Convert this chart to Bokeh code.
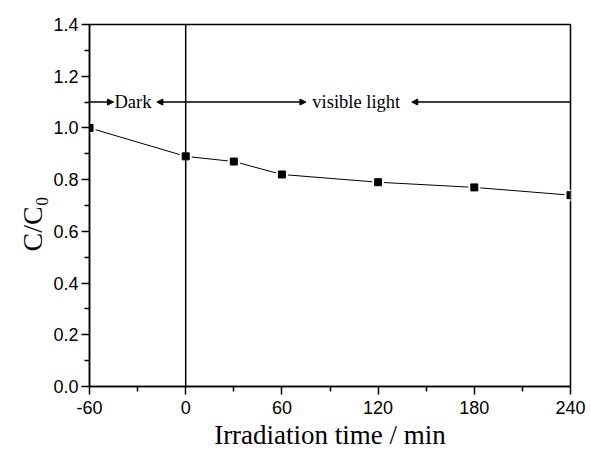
from bokeh.embed import file_html
from bokeh.models import (Arrow, FixedTicker, Label, NormalHead,
                          NumeralTickFormatter, Range1d, Span, Title)
from bokeh.plotting import figure
from bokeh.resources import INLINE

# Photocatalytic degradation: relative concentration vs irradiation time
time_min = [-60, 0, 30, 60, 120, 180, 240]
c_ratio = [1.00, 0.89, 0.87, 0.82, 0.79, 0.77, 0.74]

x_ticks = [-60, 0, 60, 120, 180, 240]
x_minor = [-30, 30, 90, 150, 210]
y_ticks = [0.0, 0.2, 0.4, 0.6, 0.8, 1.0, 1.2, 1.4]
y_minor = [0.1, 0.3, 0.5, 0.7, 0.9, 1.1, 1.3]

# Stage annotation: dark period, then visible light from t = 0
stage_level = 1.1
light_on = 0
dark_label = "Dark"
light_label = "visible light"

X0, X1 = -60, 240
Y0, Y1 = 0.0, 1.4

W, H = 591, 452
LEFT, RIGHT, TOP, BOTTOM = 89, 21, 24, 66

p = figure(width=W, height=H, x_range=Range1d(X0, X1), y_range=Range1d(Y0, Y1),
           output_backend="svg", toolbar_location=None,
           min_border_left=LEFT, min_border_right=RIGHT,
           min_border_top=TOP, min_border_bottom=BOTTOM,
           x_axis_label="Irradiation time / min")

p.background_fill_color = "white"
p.border_fill_color = "white"
p.outline_line_color = "black"
p.outline_line_width = 1.5
p.grid.visible = False

p.xaxis.ticker = FixedTicker(ticks=x_ticks, minor_ticks=x_minor)
p.yaxis.ticker = FixedTicker(ticks=y_ticks, minor_ticks=y_minor)
p.xaxis.formatter = NumeralTickFormatter(format="0")
p.yaxis.formatter = NumeralTickFormatter(format="0.0")

for ax in (p.xaxis, p.yaxis):
    ax.axis_line_color = "black"
    ax.axis_line_width = 1.5
    ax.major_tick_line_color = "black"
    ax.major_tick_line_width = 1.5
    ax.minor_tick_line_color = "black"
    ax.minor_tick_line_width = 1.5
    ax.major_tick_in = 0
    ax.major_tick_out = 8
    ax.minor_tick_in = 0
    ax.minor_tick_out = 5
    ax.major_label_text_font = "Liberation Sans"
    ax.major_label_text_font_size = "18px"
    ax.major_label_text_color = "black"
p.xaxis.major_label_standoff = 6
p.yaxis.major_label_standoff = 3
p.xaxis.axis_label_text_font = "Liberation Serif"
p.xaxis.axis_label_text_font_style = "normal"
p.xaxis.axis_label_text_color = "black"
p.xaxis.axis_label_text_font_size = "27px"
p.xaxis.axis_label_standoff = 3

# vertical axis title, starting a fixed distance above the frame bottom
p.add_layout(Title(text="C/C\u2080", align="left", offset=135, standoff=6,
                   text_font="Liberation Serif", text_font_size="28px",
                   text_font_style="normal", text_color="black"), "left")

# data line with small gaps around the symbols
p.line(time_min, c_ratio, line_color="black", line_width=1)
p.scatter(time_min, c_ratio, marker="square", size=12, fill_color="white",
          line_color=None)
p.scatter(time_min, c_ratio, marker="square", size=7, fill_color="black",
          line_color="black")

# lamp switched on
p.add_layout(Span(location=light_on, dimension="height", line_color="black",
                  line_width=1.5))


def head():
    return NormalHead(size=6, fill_color="black", line_color="black", line_width=1)


arrow_style = dict(line_color="black", line_width=1.5)
dark_tip = -45
light_left_tip = -18
light_right_tip = 75
light_tail_tip = 141
p.add_layout(Arrow(x_start=X0, y_start=stage_level, x_end=dark_tip, y_end=stage_level,
                   end=head(), **arrow_style))
p.add_layout(Arrow(x_start=light_left_tip, y_start=stage_level, x_end=light_right_tip,
                   y_end=stage_level, start=head(), end=head(), **arrow_style))
p.add_layout(Arrow(x_start=X1, y_start=stage_level, x_end=light_tail_tip,
                   y_end=stage_level, end=head(), **arrow_style))

stage_font = dict(text_font="Liberation Serif", text_font_size="18.5px",
                  text_color="black", text_align="left", text_baseline="middle")
p.add_layout(Label(x=dark_tip + 0.6, y=stage_level, text=dark_label, **stage_font))
p.add_layout(Label(x=light_right_tip + 4, y=stage_level, text=light_label, **stage_font))

open("out.html", "w").write(file_html(p, INLINE))
